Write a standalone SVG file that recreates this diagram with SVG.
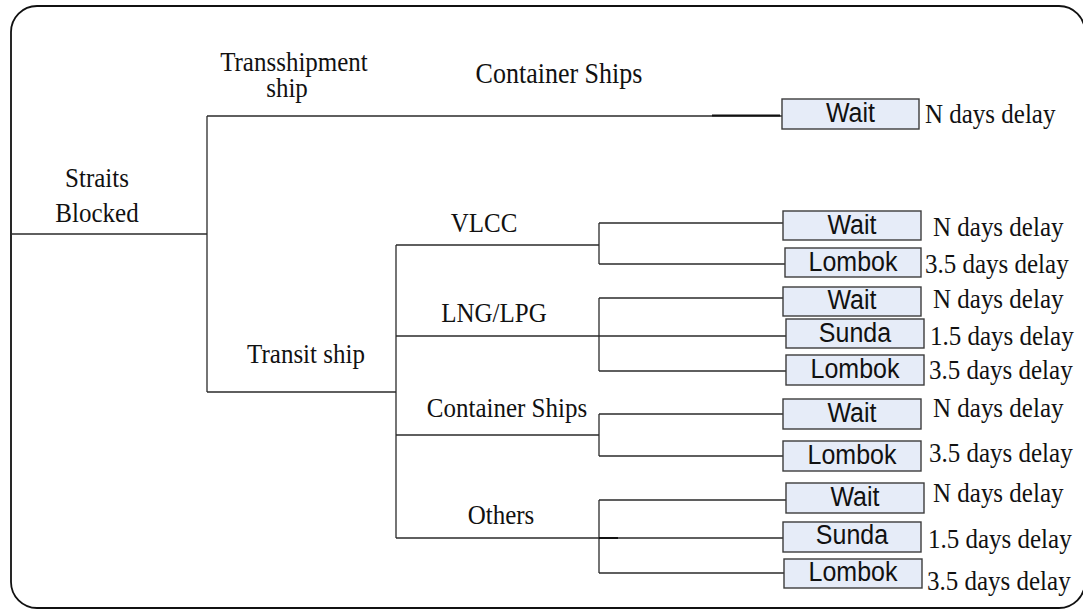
<svg xmlns="http://www.w3.org/2000/svg" width="1083" height="614" viewBox="0 0 1083 614">
<style>
.ln{stroke:#2b2b2b;stroke-width:1.3;fill:none}
.dk{stroke:#111;stroke-width:2;fill:none}
.bx{fill:#e6ecf8;stroke:#3c3c3c;stroke-width:1.4}
.bl{font-family:"Liberation Sans",Arial,sans-serif;font-size:25px;fill:#111;text-anchor:middle}
.tl{font-family:"Liberation Serif","Times New Roman",serif;font-size:25px;fill:#111}
.tc{font-family:"Liberation Serif","Times New Roman",serif;font-size:25px;fill:#111;text-anchor:middle}
</style>
<rect x="11" y="6" width="1074" height="602" rx="26" ry="26" fill="#fff" stroke="#111" stroke-width="1.8"/>
<g id="connectors">
<path class="ln" d="M11 234H207M207 116V392M207 116H782M207 392H396"/>
<path class="dk" d="M712 115.5H780"/>
<path class="ln" d="M396 245V538M396 245H599M396 336H599M396 435H599M396 538H599"/>
<path class="ln" d="M599 223V264M599 223H783M599 264H785"/>
<path class="ln" d="M599 298V371M599 298H783M599 336H786M599 371H786"/>
<path class="ln" d="M599 414V456M599 414H783M599 456H783"/>
<path class="ln" d="M599 500V573M599 500H786M599 538H783M599 573H784"/>
<path class="dk" d="M599 538H618" stroke-width="1.6"/>
</g>
<g id="n-straits"><text class="tc" x="97" y="187" transform="matrix(1 0 0 1.12 0 -22.44)">Straits</text><text class="tc" x="97" y="222" transform="matrix(1 0 0 1.12 0 -26.64)">Blocked</text></g>
<g id="n-transship"><text class="tc" x="294" y="71" transform="matrix(1 0 0 1.12 0 -8.52)">Transshipment</text><text class="tc" x="287" y="97" transform="matrix(1 0 0 1.12 0 -11.64)">ship</text></g>
<g id="n-transit"><text class="tc" x="306" y="363" transform="matrix(1 0 0 1.12 0 -43.56)">Transit ship</text></g>
<g id="n-cont-top"><text class="tc" x="559" y="83" transform="matrix(1 0 0 1.12 0 -9.96)" style="font-size:26px">Container Ships</text></g>
<g id="n-vlcc"><text class="tc" x="484" y="232" transform="matrix(1 0 0 1.12 0 -27.84)">VLCC</text></g>
<g id="n-lng"><text class="tc" x="494" y="322" transform="matrix(1 0 0 1.12 0 -38.64)">LNG/LPG</text></g>
<g id="n-cont"><text class="tc" x="507" y="417" transform="matrix(1 0 0 1.12 0 -50.04)">Container Ships</text></g>
<g id="n-others"><text class="tc" x="501" y="524" transform="matrix(1 0 0 1.12 0 -62.88)">Others</text></g>

<g id="b1"><rect class="bx" x="782" y="99" width="137" height="30"/><text class="bl" x="850.5" y="122" transform="matrix(1 0 0 1.12 0 -14.64)">Wait</text><text class="tl" x="925" y="123" transform="matrix(1 0 0 1.12 0 -14.76)">N days delay</text></g>
<g id="b2"><rect class="bx" x="783" y="211" width="138" height="29"/><text class="bl" x="852" y="234" transform="matrix(1 0 0 1.12 0 -28.08)">Wait</text><text class="tl" x="933" y="236" transform="matrix(1 0 0 1.12 0 -28.32)">N days delay</text></g>
<g id="b3"><rect class="bx" x="785" y="248" width="136" height="29"/><text class="bl" x="853" y="271" transform="matrix(1 0 0 1.12 0 -32.52)">Lombok</text><text class="tl" x="925" y="273" transform="matrix(1 0 0 1.12 0 -32.76)">3.5 days delay</text></g>
<g id="b4"><rect class="bx" x="783" y="287" width="138" height="29"/><text class="bl" x="852" y="309" transform="matrix(1 0 0 1.12 0 -37.08)">Wait</text><text class="tl" x="933" y="308" transform="matrix(1 0 0 1.12 0 -36.96)">N days delay</text></g>
<g id="b5"><rect class="bx" x="786" y="319" width="138" height="29"/><text class="bl" x="855" y="342" transform="matrix(1 0 0 1.12 0 -41.04)">Sunda</text><text class="tl" x="930" y="345" transform="matrix(1 0 0 1.12 0 -41.4)">1.5 days delay</text></g>
<g id="b6"><rect class="bx" x="786" y="355" width="138" height="30"/><text class="bl" x="855" y="378" transform="matrix(1 0 0 1.12 0 -45.36)">Lombok</text><text class="tl" x="929" y="379" transform="matrix(1 0 0 1.12 0 -45.48)">3.5 days delay</text></g>
<g id="b7"><rect class="bx" x="783" y="399" width="138" height="30"/><text class="bl" x="852" y="422" transform="matrix(1 0 0 1.12 0 -50.64)">Wait</text><text class="tl" x="933" y="417" transform="matrix(1 0 0 1.12 0 -50.04)">N days delay</text></g>
<g id="b8"><rect class="bx" x="783" y="441" width="138" height="30"/><text class="bl" x="852" y="464" transform="matrix(1 0 0 1.12 0 -55.68)">Lombok</text><text class="tl" x="929" y="462" transform="matrix(1 0 0 1.12 0 -55.44)">3.5 days delay</text></g>
<g id="b9"><rect class="bx" x="786" y="483" width="138" height="30"/><text class="bl" x="855" y="506" transform="matrix(1 0 0 1.12 0 -60.72)">Wait</text><text class="tl" x="933" y="502" transform="matrix(1 0 0 1.12 0 -60.24)">N days delay</text></g>
<g id="b10"><rect class="bx" x="783" y="522" width="138" height="30"/><text class="bl" x="852" y="544" transform="matrix(1 0 0 1.12 0 -65.28)">Sunda</text><text class="tl" x="928" y="548" transform="matrix(1 0 0 1.12 0 -65.76)">1.5 days delay</text></g>
<g id="b11"><rect class="bx" x="784" y="559" width="138" height="29"/><text class="bl" x="853" y="581" transform="matrix(1 0 0 1.12 0 -69.72)">Lombok</text><text class="tl" x="927" y="590" transform="matrix(1 0 0 1.12 0 -70.8)">3.5 days delay</text></g>
</svg>
